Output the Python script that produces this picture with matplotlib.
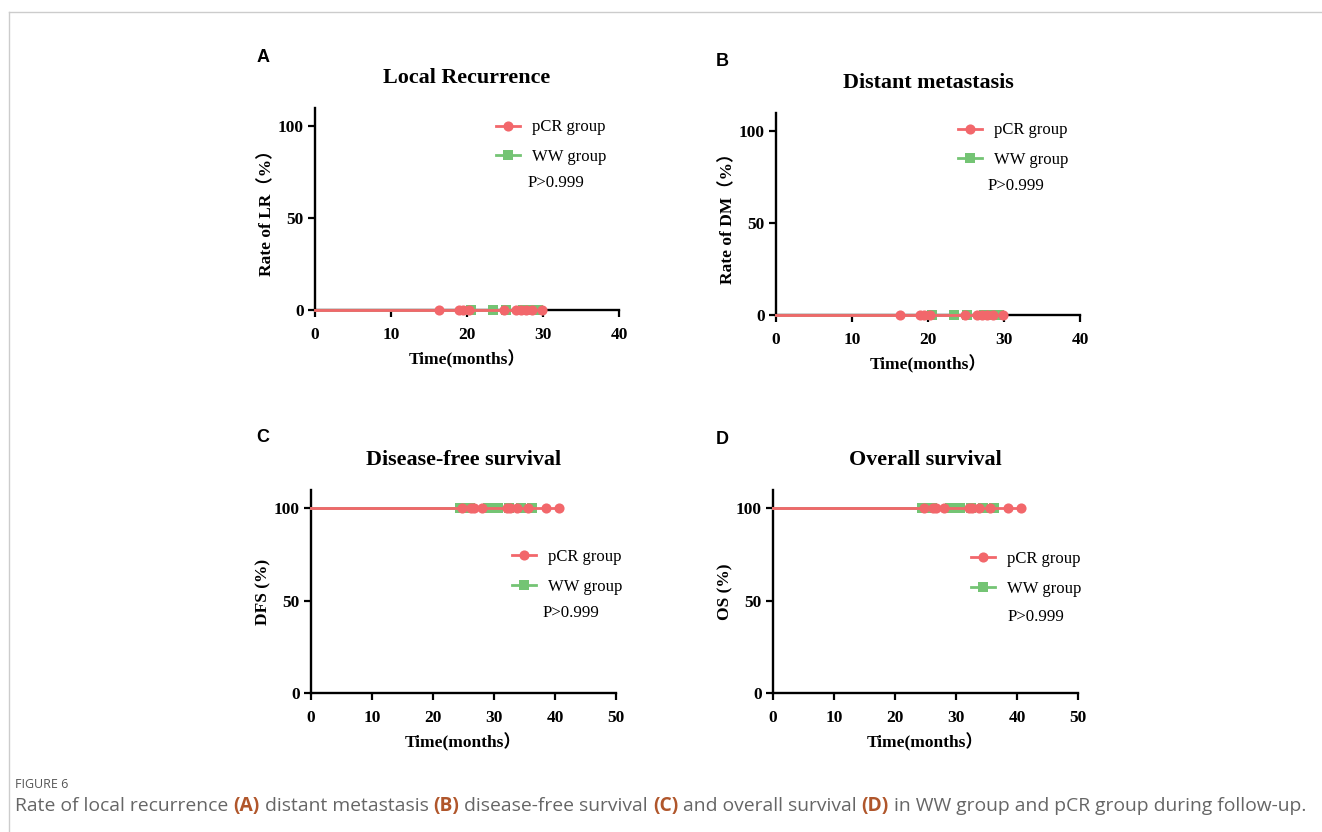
import numpy as np
import matplotlib
matplotlib.use("Agg")
from matplotlib import pyplot as plt
from matplotlib.lines import Line2D

# censored follow-up times (months)
pcr_lr_times = [16.3, 18.9, 19.5, 20.2, 24.9, 26.4, 27.1, 27.8, 28.5, 29.9]
ww_lr_times = [20.5, 23.4, 25.1, 27.4, 28.2, 29.0, 29.4]
pcr_surv_times = [24.7, 26.3, 26.8, 28.1, 32.1, 32.7, 33.7, 35.5, 38.5, 40.6]
ww_surv_times = [24.5, 26.1, 29.0, 30.6, 32.4, 34.4, 36.2]

# KM estimate (%) for each panel, flat at one level
rate_lr = 0      # local recurrence
rate_dm = 0      # distant metastasis
rate_dfs = 100   # disease-free survival
rate_os = 100    # overall survival

panel_letters = ["A", "B", "C", "D"]
titles = ["Local Recurrence", "Distant metastasis", "Disease-free survival", "Overall survival"]
ylabels = ["Rate of LR（%）", "Rate of DM（%）", "DFS (%)", "OS (%)"]
xmax = [40, 40, 50, 50]
series_names = ["pCR group", "WW group"]
p_text = "P>0.999"

RED = "#F2676B"
GREEN = "#74C474"
W, H = 1322, 832
SERIF = ["Liberation Serif", "Noto Sans CJK SC"]

fig = plt.figure(figsize=(W / 100, H / 100), dpi=100)


def fx(x):
    return x / W


def fy(y):
    return 1 - y / H


# axes boxes in pixels: left, right, bottom, top
boxes = [(315, 619, 310, 108), (776, 1080, 315, 113),
         (311, 616, 693, 490), (773, 1078, 693, 490)]
legend_pos = [(488, 111), (950, 114), (504, 541), (963, 543)]
p_pos = [(528, 183), (988, 186), (543, 613), (1008, 617)]
letter_pos = [(263, 57), (722, 62), (263, 437), (722, 440)]

data = [(pcr_lr_times, ww_lr_times, rate_lr),
        (pcr_lr_times, ww_lr_times, rate_dm),
        (pcr_surv_times, ww_surv_times, rate_dfs),
        (pcr_surv_times, ww_surv_times, rate_os)]

for i, (l, r, b, t) in enumerate(boxes):
    ax = fig.add_axes([fx(l), fy(b), fx(r) - fx(l), fy(t) - fy(b)])
    pcr, ww, rate = data[i]

    # WW curve first, pCR drawn over it
    ax.plot([0] + ww, [rate] * (len(ww) + 1), color=GREEN, lw=2, zorder=3, clip_on=False)
    ax.plot(ww, [rate] * len(ww), ls="none", marker="s", ms=6.8, color=GREEN, mew=0, zorder=3, clip_on=False)
    ax.plot([0] + pcr, [rate] * (len(pcr) + 1), color=RED, lw=2, zorder=4, clip_on=False)
    ax.plot(pcr, [rate] * len(pcr), ls="none", marker="o", ms=7.3, color=RED, mew=0, zorder=4, clip_on=False)

    ax.set_xlim(0, xmax[i])
    ax.set_ylim(0, 110)
    ax.set_xticks(np.arange(0, xmax[i] + 1, 10))
    ax.set_yticks([0, 50, 100])
    for s in ["top", "right"]:
        ax.spines[s].set_visible(False)
    for s in ["left", "bottom"]:
        ax.spines[s].set_linewidth(1.7)
    ax.tick_params(direction="out", length=5, width=1.6, labelsize=12.5)
    ax.tick_params(axis="x", pad=7)
    ax.tick_params(axis="y", pad=3)
    for lab in ax.get_xticklabels() + ax.get_yticklabels():
        lab.set_fontfamily(SERIF)
        lab.set_fontweight("bold")

    ax.set_title(titles[i], family=SERIF, fontsize=15.8, fontweight="bold", pad=18)
    ax.set_xlabel("Time(months）", family=SERIF, fontsize=12.5, fontweight="bold", labelpad=5)
    ax.set_ylabel(ylabels[i], family=SERIF, fontsize=12.5, fontweight="bold", labelpad=2)

    handles = [Line2D([], [], color=RED, lw=2, marker="o", ms=7.3, mew=0),
               Line2D([], [], color=GREEN, lw=2, marker="s", ms=6.8, mew=0)]
    lx, ly = legend_pos[i]
    ax.legend(handles, series_names, loc="upper left", bbox_to_anchor=(fx(lx), fy(ly)),
              bbox_transform=fig.transFigure, frameon=False, borderpad=0,
              handlelength=1.4, handletextpad=0.75, labelspacing=0.82,
              prop={"family": SERIF, "size": 12})
    px, py = p_pos[i]
    fig.text(fx(px), fy(py), p_text, family=SERIF, fontsize=12.2, va="center", ha="left")

    bx, by = letter_pos[i]
    fig.text(fx(bx), fy(by), panel_letters[i], family="Liberation Sans", fontsize=13,
             fontweight="bold", ha="center", va="center")

# thin page frame
fig.add_artist(Line2D([fx(9), 1], [fy(12), fy(12)], color="#cccccc", lw=1))
fig.add_artist(Line2D([fx(9), fx(9)], [fy(12), 0], color="#cccccc", lw=1))

fig.text(fx(15), fy(784), "FIGURE 6", family="Open Sans", fontsize=9, color="#555555", va="center")
caption = [("Rate of local recurrence ", "normal"), ("(A)", "bold"),
           (" distant metastasis ", "normal"), ("(B)", "bold"),
           (" disease-free survival ", "normal"), ("(C)", "bold"),
           (" and overall survival ", "normal"), ("(D)", "bold"),
           (" in WW group and pCR group during follow-up.", "normal")]
fig.canvas.draw()
renderer = fig.canvas.get_renderer()
x = fx(15)
for txt, wt in caption:
    t = fig.text(x, fy(806), txt, family="Open Sans", fontsize=13.9, fontweight=wt,
                 color="#B0562B" if wt == "bold" else "#666666", va="center")
    bb = t.get_window_extent(renderer)
    x += bb.width / W

fig.savefig("out.png", dpi=100)
